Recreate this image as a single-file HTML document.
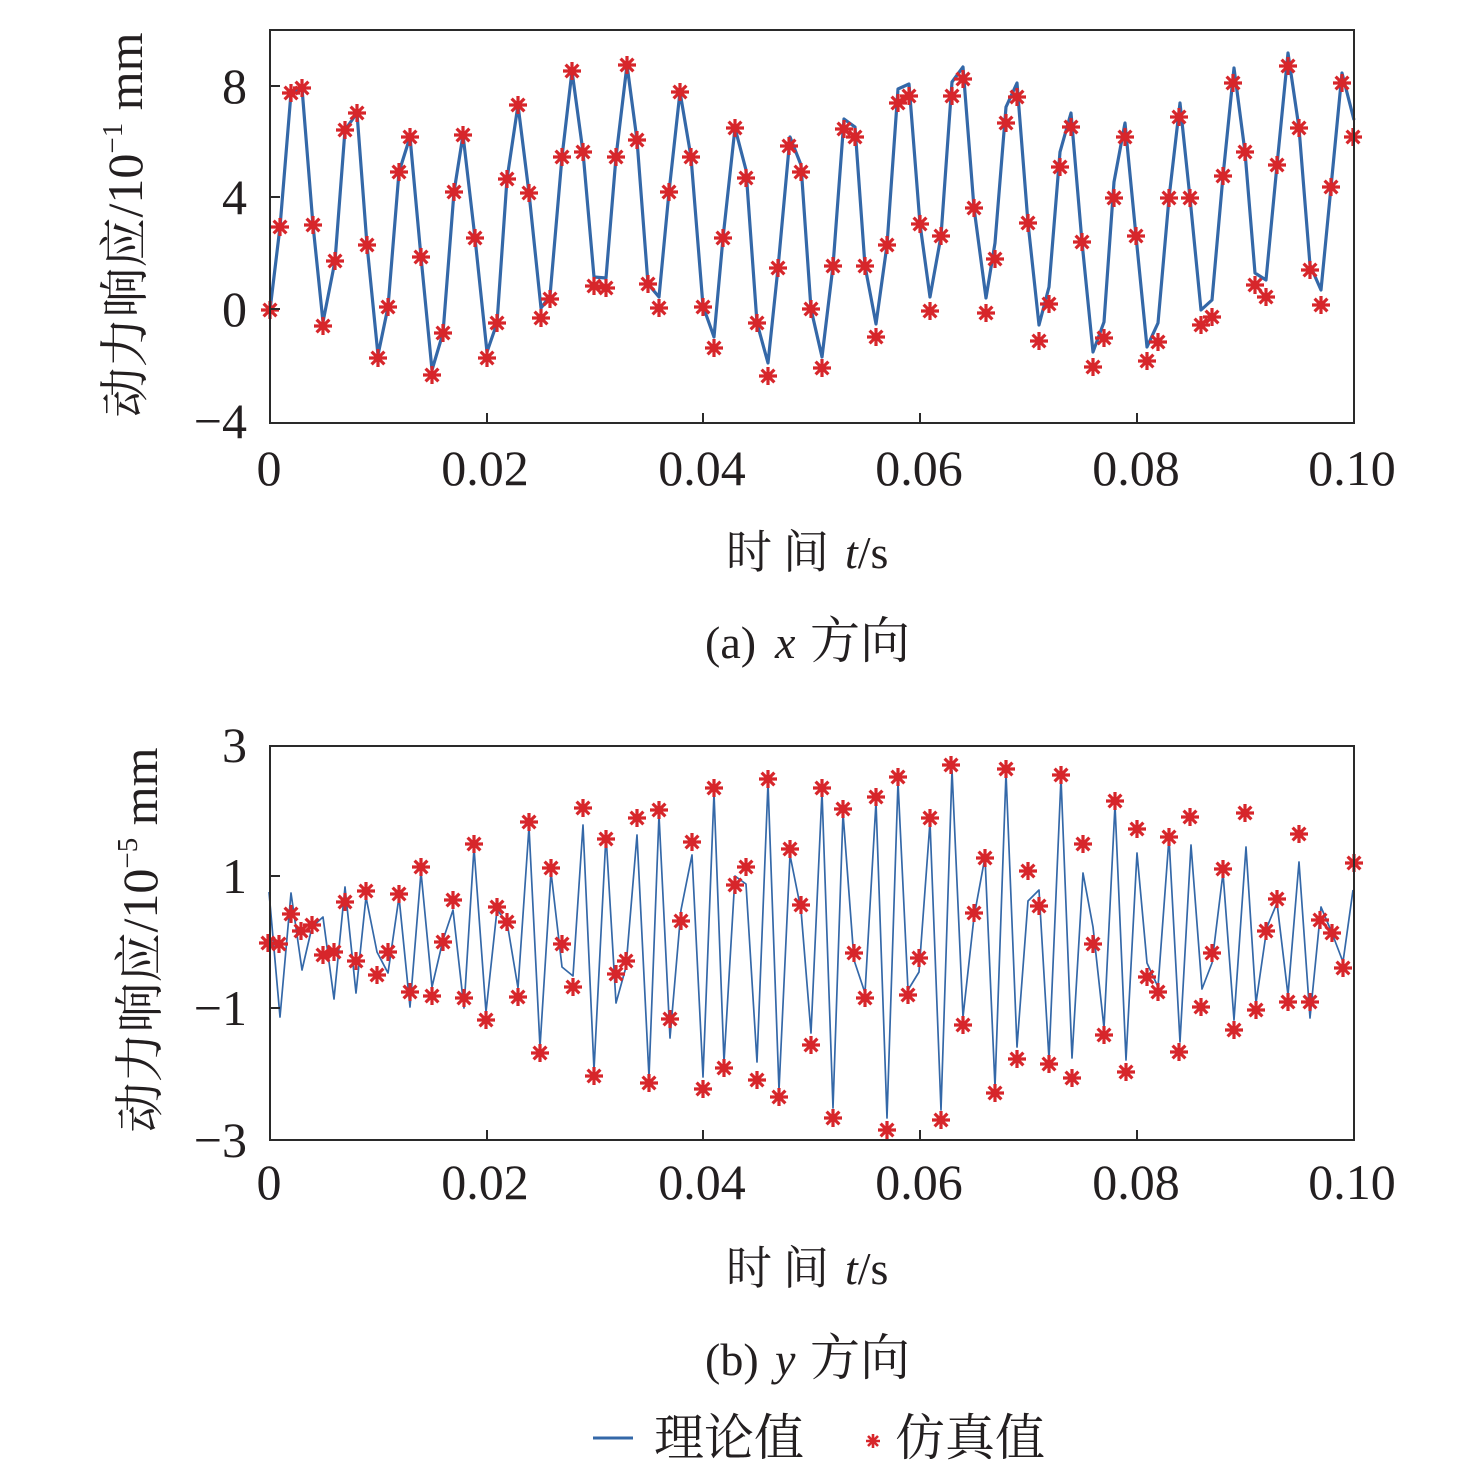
<!DOCTYPE html>
<html><head><meta charset="utf-8"><style>
html,body{margin:0;padding:0;background:#fff;}
svg{display:block;}
text{font-family:"Liberation Serif","Noto Serif CJK SC",serif;fill:#231f20;}
</style></head><body>
<svg width="1476" height="1475" viewBox="0 0 1476 1475" xmlns="http://www.w3.org/2000/svg">
<defs>
<marker id="mk" viewBox="-12 -12 24 24" markerWidth="24" markerHeight="24" refX="0" refY="0" markerUnits="userSpaceOnUse" overflow="visible">
<path d="M-9,0H9M0,-9V9M-6.4,-6.4L6.4,6.4M-6.4,6.4L6.4,-6.4" stroke="#d7262b" stroke-width="3.2" fill="none"/>
</marker>
</defs>
<rect width="1476" height="1475" fill="#fff"/>

<!-- Plot (a) -->
<polyline fill="none" stroke="#3468a8" stroke-width="3.2" stroke-linejoin="round" points="270,310 280,227 291,93 302,88 313,225 323,322 335,261 345,130 357,113 367,245 378,355 388,307 399,172 410,137 421,257 432,370 443,333 454,192 463,135 475,238 487,352 497,323 507,179 518,105 529,193 541,308 550,296 562,157 572,71 583,152 594,277 606,278 616,157 627,65 637,140 648,284 659,297 669,192 680,92 691,157 703,306 714,337 723,238 735,128 746,170 757,323 768,363 778,268 790,137 801,165 811,309 822,357 833,266 844,119 855,127 865,266 876,324 887,245 898,89 909,84 920,224 930,297 941,236 952,82 963,67 974,208 986,298 995,243 1006,107 1017,83 1028,223 1039,325 1049,287 1060,152 1071,113 1082,242 1093,352 1104,322 1114,182 1125,123 1136,236 1147,347 1158,323 1169,198 1180,103 1190,198 1201,310 1212,300 1223,176 1234,68 1245,152 1255,273 1266,280 1277,165 1288,53 1299,128 1310,265 1321,290 1331,187 1342,73 1354,120"/>
<polyline fill="none" stroke="none" marker-start="url(#mk)" marker-mid="url(#mk)" marker-end="url(#mk)" points="270,310 280,227 291,93 302,88 313,225 323,326 335,261 345,130 357,113 367,245 378,358 388,307 399,172 410,137 421,257 432,375 443,333 454,192 463,135 475,238 487,358 497,323 507,179 518,105 529,193 541,318 550,299 562,157 572,71 583,152 594,286 606,288 616,157 627,65 637,140 648,284 659,308 669,192 680,92 691,157 703,307 714,348 723,238 735,128 746,178 757,323 768,376 778,268 789,146 801,172 811,309 822,368 833,266 844,129 855,137 865,266 876,337 887,245 898,103 909,96 920,224 930,311 941,236 952,96 963,79 974,208 986,313 995,259 1006,123 1017,97 1028,223 1039,341 1049,304 1060,167 1071,127 1082,242 1093,367 1104,338 1114,198 1125,137 1136,236 1147,361 1158,342 1169,198 1179,117 1190,198 1201,325 1212,317 1223,176 1233,83 1245,152 1255,285 1266,297 1277,165 1288,66 1299,128 1310,270 1321,305 1331,187 1342,83 1353,137"/>
<rect x="270" y="30" width="1084" height="393" fill="none" stroke="#2a2a2a" stroke-width="2"/>
<path d="M270,86h10M270,197h10M270,309h10M487,423v-10M703,423v-10M920,423v-10M1137,423v-10" stroke="#2a2a2a" stroke-width="2"/>
<g font-size="50" text-anchor="end">
<text x="247" y="103">8</text>
<text x="247" y="214">4</text>
<text x="247" y="326">0</text>
<text x="247" y="438">−4</text>
</g>
<g font-size="50" text-anchor="middle">
<text x="269" y="485">0</text>
<text x="485" y="485">0.02</text>
<text x="702" y="485">0.04</text>
<text x="919" y="485">0.06</text>
<text x="1136" y="485">0.08</text>
<text x="1352" y="485">0.10</text>
</g>
<text transform="translate(142,225) rotate(-90)" font-size="50" text-anchor="middle">动力响应/10<tspan dy="-20" font-size="29">−1</tspan><tspan dy="20"> mm</tspan></text>
<text y="568" font-size="46"><tspan x="726">时</tspan><tspan x="783">间</tspan><tspan x="845" font-style="italic">t</tspan><tspan>/s</tspan></text>
<text y="658" font-size="46"><tspan x="705">(a)</tspan><tspan x="775" font-style="italic">x</tspan><tspan x="810" font-size="50">方向</tspan></text>

<!-- Plot (b) -->
<polyline fill="none" stroke="#3468a8" stroke-width="1.7" stroke-linejoin="round" points="269,892 280,1017 291,893 302,970 312,927 323,917 334,999 345,887 356,993 366,897 377,952 388,973 399,897 410,1007 421,872 432,987 443,940 453,910 464,1008 474,848 486,1012 497,910 507,922 518,988 529,827 540,1047 551,872 562,967 573,976 583,825 594,1070 606,835 616,1003 626,967 637,835 649,1077 659,815 670,1038 681,910 692,855 703,1077 714,793 724,1062 735,876 746,884 757,1062 768,783 779,1090 790,855 801,910 811,1033 822,792 833,1108 843,813 854,960 865,993 876,802 887,1118 898,782 908,990 919,972 930,822 941,1110 952,770 963,1017 974,917 985,857 995,1087 1006,773 1017,1047 1028,901 1039,890 1049,1059 1061,778 1072,1058 1083,873 1093,927 1104,1028 1115,805 1126,1060 1137,853 1147,963 1158,987 1169,838 1180,1042 1191,845 1202,989 1212,963 1223,873 1234,1020 1246,847 1256,1003 1267,927 1277,903 1288,995 1299,862 1310,1018 1321,907 1332,933 1343,962 1353,890"/>
<polyline fill="none" stroke="none" marker-start="url(#mk)" marker-mid="url(#mk)" marker-end="url(#mk)" points="268,943 279,944 291,914 301,931 312,925 323,955 334,952 345,902 356,961 366,891 377,975 388,952 399,894 410,992 421,867 432,996 443,942 453,900 464,998 474,844 486,1020 497,907 507,922 518,997 529,822 540,1053 551,868 562,944 573,987 583,808 594,1076 606,839 616,974 626,961 637,818 649,1083 659,810 670,1019 681,921 692,842 703,1089 714,788 724,1068 735,885 746,867 757,1080 768,779 779,1097 790,849 801,905 811,1045 822,788 833,1118 843,809 854,953 865,998 876,797 887,1130 898,777 908,995 919,958 930,818 941,1120 951,765 963,1025 974,913 985,858 995,1093 1006,769 1017,1059 1028,871 1039,906 1049,1064 1061,775 1072,1078 1083,844 1093,944 1104,1035 1115,801 1126,1072 1137,829 1147,977 1158,992 1169,837 1179,1052 1190,817 1201,1007 1212,953 1223,869 1234,1030 1245,813 1256,1010 1266,931 1277,899 1288,1002 1299,834 1310,1002 1320,920 1332,933 1343,968 1354,863"/>
<rect x="270" y="746" width="1084" height="394" fill="none" stroke="#2a2a2a" stroke-width="2"/>
<path d="M270,876h10M270,1008h10M487,1140v-10M703,1140v-10M920,1140v-10M1137,1140v-10" stroke="#2a2a2a" stroke-width="2"/>
<g font-size="50" text-anchor="end">
<text x="247" y="762">3</text>
<text x="247" y="893">1</text>
<text x="247" y="1025">−1</text>
<text x="247" y="1157">−3</text>
</g>
<g font-size="50" text-anchor="middle">
<text x="269" y="1199">0</text>
<text x="485" y="1199">0.02</text>
<text x="702" y="1199">0.04</text>
<text x="919" y="1199">0.06</text>
<text x="1136" y="1199">0.08</text>
<text x="1352" y="1199">0.10</text>
</g>
<text transform="translate(157,940) rotate(-90)" font-size="50" text-anchor="middle">动力响应/10<tspan dy="-20" font-size="29">−5</tspan><tspan dy="20"> mm</tspan></text>
<text y="1284" font-size="46"><tspan x="726">时</tspan><tspan x="783">间</tspan><tspan x="845" font-style="italic">t</tspan><tspan>/s</tspan></text>
<text y="1375" font-size="46"><tspan x="705">(b)</tspan><tspan x="775" font-style="italic">y</tspan><tspan x="810" font-size="50">方向</tspan></text>

<!-- Legend -->
<line x1="593" y1="1438" x2="633" y2="1438" stroke="#3468a8" stroke-width="3"/>
<text x="654" y="1455" font-size="50">理论值</text>
<path transform="translate(873,1441)" d="M-7,0H7M0,-7V7M-5,-5L5,5M-5,5L5,-5" stroke="#d7262b" stroke-width="2.6" fill="none"/>
<text x="895" y="1455" font-size="50">仿真值</text>
</svg>
</body></html>
